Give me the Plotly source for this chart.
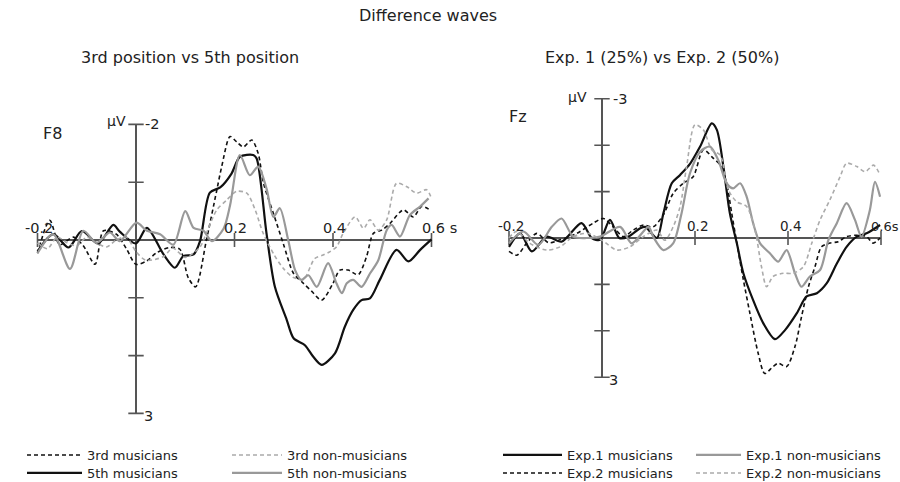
import plotly.graph_objects as go

# ---------------- data ----------------
# Left panel (F8): 3rd position vs 5th position
L3_MUS_T = [-0.2, -0.175, -0.155, -0.127, -0.107, -0.083, -0.066, -0.04, -0.019, 0.0, 0.022, 0.042, 0.069, 0.089,
            0.106, 0.121, 0.143, 0.164, 0.174, 0.191, 0.204, 0.218, 0.235, 0.248, 0.259, 0.279, 0.299, 0.32, 0.34,
            0.357, 0.377, 0.4, 0.414, 0.431, 0.451, 0.468, 0.482, 0.499, 0.516, 0.543, 0.563, 0.58, 0.597]
L3_MUS_V = [0.23, -0.34, 0.08, -0.05, 0.1, 0.42, -0.16, -0.1, 0.16, 0.42, 0.36, 0.22, 0.13, 0.16,
            0.65, 0.81, 0.0, -0.86, -1.27, -1.79, -1.70, -1.61, -1.73, -1.5, -0.98, -0.46, 0.06, 0.58, 0.75,
            0.89, 1.04, 0.75, 0.52, 0.52, 0.6, 0.29, -0.115, -0.17, -0.29, -0.52, -0.4, -0.58, -0.52]

L5_MUS_T = [-0.2, -0.168, -0.137, -0.11, -0.077, -0.046, -0.033, 0.0, 0.022, 0.056, 0.079, 0.096, 0.117, 0.13,
            0.15, 0.171, 0.194, 0.211, 0.238, 0.245, 0.265, 0.282, 0.306, 0.32, 0.343, 0.36, 0.377, 0.404, 0.424,
            0.441, 0.458, 0.475, 0.495, 0.529, 0.553, 0.577, 0.6]
L5_MUS_V = [0.2, -0.1, 0.13, -0.156, 0.06, -0.26, -0.145, 0.06, -0.21, 0.25, 0.48, 0.28, 0.25, 0.02,
            -0.82, -0.91, -1.15, -1.44, -1.47, -1.41, -0.115, 0.81, 1.38, 1.70, 1.82, 2.02, 2.16, 1.96, 1.5,
            1.21, 1.04, 1.01, 0.69, 0.17, 0.37, 0.17, -0.01]

L3_NON_T = [-0.2, -0.18, -0.16, -0.14, -0.12, -0.1, -0.08, -0.06, -0.04, -0.02, 0.0, 0.02, 0.055, 0.075, 0.1,
            0.13, 0.143, 0.164, 0.184, 0.204, 0.225, 0.242, 0.258, 0.28, 0.30, 0.32, 0.34, 0.363, 0.38, 0.394,
            0.407, 0.421, 0.445, 0.462, 0.475, 0.492, 0.509, 0.529, 0.55, 0.57, 0.59, 0.6]
L3_NON_V = [0.05, 0.15, -0.05, 0.05, 0.1, -0.05, 0.05, 0.12, 0.0, -0.05, 0.2, 0.35, 0.29, 0.14, 0.3,
            0.12, -0.12, -0.52, -0.69, -0.84, -0.81, -0.52, -0.12, 0.25, 0.5, 0.65, 0.68, 0.32, 0.26, 0.2,
            0.12, -0.12, -0.40, -0.2, -0.35, -0.17, -0.35, -0.98, -0.92, -0.81, -0.87, -0.72]

L5_NON_T = [-0.2, -0.168, -0.134, -0.107, -0.08, -0.053, -0.033, 0.001, 0.022, 0.049, 0.076, 0.1, 0.117, 0.137,
            0.154, 0.178, 0.191, 0.211, 0.231, 0.248, 0.265, 0.279, 0.292, 0.309, 0.323, 0.336, 0.35, 0.367,
            0.39, 0.407, 0.418, 0.428, 0.441, 0.458, 0.475, 0.492, 0.509, 0.519, 0.536, 0.556, 0.577, 0.594]
L5_NON_V = [0.23, -0.1, 0.5, -0.16, 0.05, -0.13, 0.02, -0.3, -0.16, -0.1, 0.08, -0.5, -0.21, -0.16,
            0.02, -0.2, -0.6, -1.47, -1.12, -1.27, -0.89, -0.4, -0.55, 0.0, 0.52, 0.69, 0.61, 0.81,
            0.40, 0.75, 0.92, 0.75, 0.69, 0.81, 0.58, 0.35, -0.17, -0.26, -0.06, -0.43, -0.58, -0.72]

# Right panel (Fz): Exp. 1 (25%) vs Exp. 2 (50%)
E1_MUS_T = [-0.2, -0.176, -0.151, -0.119, -0.087, -0.044, -0.022, -0.004, 0.017, 0.037, 0.057, 0.082, 0.093,
            0.118, 0.132, 0.15, 0.168, 0.19, 0.211, 0.236, 0.247, 0.261, 0.275, 0.29, 0.304, 0.325, 0.347,
            0.372, 0.394, 0.419, 0.44, 0.462, 0.483, 0.505, 0.526, 0.548, 0.569, 0.598]
E1_MUS_V = [0.19, -0.1, 0.29, -0.03, 0.08, -0.32, 0.0, 0.04, -0.39, 0.0, -0.03, -0.21, -0.24,
            0.0, -0.53, -1.18, -1.36, -1.61, -1.97, -2.47, -2.33, -1.54, -0.53, 0.115, 0.76, 1.34, 1.84,
            2.18, 1.98, 1.62, 1.26, 1.19, 0.98, 0.55, 0.19, -0.03, -0.1, -0.28]

E2_MUS_T = [-0.2, -0.183, -0.162, -0.14, -0.115, -0.09, -0.054, -0.019, 0.003, 0.024, 0.046, 0.067, 0.089,
            0.11, 0.132, 0.153, 0.175, 0.196, 0.218, 0.239, 0.257, 0.268, 0.279, 0.29, 0.304, 0.318, 0.336,
            0.35, 0.368, 0.379, 0.397, 0.415, 0.429, 0.444, 0.458, 0.472, 0.49, 0.508, 0.526, 0.548, 0.569,
            0.583, 0.598]
E2_MUS_V = [0.29, 0.37, 0.11, -0.1, 0.1, 0.04, -0.1, -0.32, -0.42, -0.24, -0.03, -0.17, -0.28,
            -0.24, -0.5, -0.96, -1.18, -1.32, -1.9, -1.72, -1.54, -1.18, -0.53, 0.11, 0.9, 1.62, 2.49,
            2.92, 2.77, 2.7, 2.77, 2.34, 1.7, 1.05, 0.62, 0.19, 0.11, 0.08, -0.03, -0.06, -0.03,
            0.11, 0.0]

E1_NON_T = [-0.2, -0.169, -0.137, -0.108, -0.087, -0.062, -0.033, -0.004, 0.039, 0.064, 0.1, 0.11, 0.132,
            0.153, 0.171, 0.189, 0.211, 0.232, 0.25, 0.268, 0.282, 0.297, 0.311, 0.325, 0.34, 0.361, 0.379,
            0.397, 0.415, 0.429, 0.447, 0.469, 0.487, 0.505, 0.526, 0.544, 0.558, 0.576, 0.587, 0.598]
E1_NON_V = [0.115, -0.14, 0.15, -0.24, -0.42, -0.03, 0.0, -0.03, -0.24, 0.115, -0.24, -0.03, 0.26,
            0.115, -0.53, -1.39, -1.86, -1.97, -1.68, -1.18, -1.07, -1.18, -0.89, -0.32, 0.115, 0.33, 0.51,
            0.26, 0.76, 1.05, 0.83, 0.69, 0.04, -0.32, -0.75, -0.39, -0.03, -0.6, -1.21, -0.89]

E2_NON_T = [-0.2, -0.184, -0.155, -0.119, -0.09, -0.062, -0.03, 0.0, 0.032, 0.06, 0.089, 0.118, 0.135,
            0.153, 0.168, 0.182, 0.2, 0.218, 0.236, 0.254, 0.272, 0.29, 0.311, 0.329, 0.343, 0.354, 0.368,
            0.39, 0.411, 0.433, 0.451, 0.469, 0.49, 0.512, 0.526, 0.548, 0.566, 0.584, 0.598]
E2_NON_V = [0.0, -0.14, 0.115, 0.26, 0.19, -0.03, -0.1, 0.05, 0.26, 0.19, -0.03, -0.17, 0.05,
            -0.24, -0.68, -1.54, -2.44, -2.33, -1.9, -1.79, -1.03, -0.78, -0.68, -0.17, 0.62, 1.05, 0.83,
            0.76, 0.76, 0.62, 0.115, -0.39, -0.82, -1.32, -1.61, -1.54, -1.43, -1.57, -1.36]

# Axis ticks
X_TICKS = [-0.2, 0.0, 0.2, 0.4, 0.6]
X_TICK_LABELS = ["-0.2", "", "0.2", "0.4", "0.6"]
L_Y_TICKS = [-2, -1, 0, 1, 2, 3]
R_Y_TICKS = [-3, -2, -1, 0, 1, 2, 3]

# ---------------- styling ----------------
W, H = 900, 482
FONT = "DejaVu Sans"
TXT = "#222222"
AX = "#555555"
BLACK = "#111111"
GRAY = "#999999"
LGRAY = "#ababab"
DASH = "4px,3px"

fig = go.Figure()


def line(x, y, name, color, dash, width, xa, ya, legend):
    fig.add_trace(go.Scatter(
        x=x, y=y, mode="lines", name=name,
        line=dict(color=color, width=width, dash=dash, shape="spline", smoothing=0.8),
        xaxis=xa, yaxis=ya, legend=legend, hoverinfo="skip"))


def axes(xa, ya, yticks):
    fig.add_trace(go.Scatter(x=[X_TICKS[0], X_TICKS[-1]], y=[0, 0], mode="lines",
                             line=dict(color=AX, width=2), xaxis=xa, yaxis=ya,
                             showlegend=False, hoverinfo="skip"))
    fig.add_trace(go.Scatter(x=[0, 0], y=[yticks[0], yticks[-1]], mode="lines",
                             line=dict(color=AX, width=2), xaxis=xa, yaxis=ya,
                             showlegend=False, hoverinfo="skip"))
    fig.add_trace(go.Scatter(x=X_TICKS, y=[0] * len(X_TICKS), mode="markers",
                             marker=dict(symbol="line-ns", size=10, line=dict(color=AX, width=1.6)),
                             xaxis=xa, yaxis=ya, showlegend=False, hoverinfo="skip"))
    fig.add_trace(go.Scatter(x=[0] * len(yticks), y=yticks, mode="markers",
                             marker=dict(symbol="line-ew", size=11, line=dict(color=AX, width=1.6)),
                             xaxis=xa, yaxis=ya, showlegend=False, hoverinfo="skip"))


# left panel
axes("x", "y", L_Y_TICKS)
line(L3_MUS_T, L3_MUS_V, "3rd musicians", BLACK, DASH, 1.6, "x", "y", "legend")
line(L5_MUS_T, L5_MUS_V, "5th musicians", BLACK, "solid", 2.2, "x", "y", "legend2")
line(L3_NON_T, L3_NON_V, "3rd non-musicians", LGRAY, DASH, 1.6, "x", "y", "legend3")
line(L5_NON_T, L5_NON_V, "5th non-musicians", GRAY, "solid", 2.2, "x", "y", "legend4")

# right panel
axes("x2", "y2", R_Y_TICKS)
line(E1_MUS_T, E1_MUS_V, "Exp.1 musicians", BLACK, "solid", 2.2, "x2", "y2", "legend5")
line(E2_MUS_T, E2_MUS_V, "Exp.2 musicians", BLACK, DASH, 1.6, "x2", "y2", "legend6")
line(E1_NON_T, E1_NON_V, "Exp.1 non-musicians", GRAY, "solid", 2.2, "x2", "y2", "legend7")
line(E2_NON_T, E2_NON_V, "Exp.2 non-musicians", LGRAY, DASH, 1.6, "x2", "y2", "legend8")


# ---------------- layout (pixel geometry) ----------------
def xdom(a, b):
    return [a / W, b / W]


def ydom(top, bot):
    return [1 - bot / H, 1 - top / H]


# left: t=0 at px 136, 492.5 px/s ; v=0 at py 240, 57.8 px/uV
LXR = [-0.22, 0.62]
LYR = [3.1, -2.1]
# right: t=0 at px 602, 465 px/s ; v=0 at py 238, 46.4 px/uV
RXR = [-0.22, 0.62]
RYR = [3.1, -3.1]

hidden = dict(visible=False, showgrid=False, zeroline=False, fixedrange=True)
fig.update_layout(
    width=W, height=H, margin=dict(l=0, r=0, t=0, b=0, autoexpand=False),
    paper_bgcolor="white", plot_bgcolor="rgba(0,0,0,0)",
    font=dict(family=FONT, color=TXT, size=13),
    xaxis=dict(domain=xdom(136 + LXR[0] * 492.5, 136 + LXR[1] * 492.5), range=LXR, **hidden),
    yaxis=dict(domain=ydom(240 - 2.1 * 57.8, 240 + 3.1 * 57.8), range=LYR, **hidden),
    xaxis2=dict(domain=xdom(602 + RXR[0] * 465, 602 + RXR[1] * 465), range=RXR, **hidden),
    yaxis2=dict(domain=ydom(238 - 3.1 * 46.4, 238 + 3.1 * 46.4), range=RYR, **hidden),
    showlegend=True,
)


def leg(xpx, ypx, itemwidth):
    return dict(orientation="v", bgcolor="rgba(0,0,0,0)", font=dict(size=13, color=TXT),
                itemwidth=itemwidth, tracegroupgap=0, xanchor="left", yanchor="middle",
                x=xpx / W, y=1 - ypx / H, itemclick=False, itemdoubleclick=False)


ROW1, ROW2 = 455, 473
fig.update_layout(
    legend=leg(22, ROW1, 55), legend2=leg(22, ROW2, 55),
    legend3=leg(227, ROW1, 50), legend4=leg(227, ROW2, 50),
    legend5=leg(498, ROW1, 59), legend6=leg(498, ROW2, 59),
    legend7=leg(691, ROW1, 45), legend8=leg(691, ROW2, 45),
)

ann = []


def text(t, x, y, size, xref="paper", yref="paper", **kw):
    ann.append(dict(text=t, x=x, y=y, xref=xref, yref=yref, showarrow=False,
                    font=dict(family=FONT, size=size, color=TXT), **kw))


# titles
text("Difference waves", 428 / W, 1 - 16 / H, 16, xanchor="center", yanchor="middle")
text("3rd position vs 5th position", 190 / W, 1 - 57 / H, 16, xanchor="center", yanchor="middle")
text("Exp. 1 (25%) vs Exp. 2 (50%)", 662 / W, 1 - 57 / H, 16, xanchor="center", yanchor="middle")
text("F8", 41 / W, 1 - 133 / H, 16, xanchor="left", yanchor="middle")
text("Fz", 507 / W, 1 - 116 / H, 16, xanchor="left", yanchor="middle")

TSL = 14.5
# tick labels, left
for v, lab in zip(X_TICKS, X_TICK_LABELS):
    if not lab:
        continue
    if v == X_TICKS[-1]:
        text(lab + " s", v, 0, TSL, "x", "y", xanchor="left", yanchor="bottom", xshift=-12, yshift=2)
    else:
        text(lab, v, 0, TSL, "x", "y", xanchor="center", yanchor="bottom", xshift=1, yshift=2)
text(str(L_Y_TICKS[0]), 0, L_Y_TICKS[0], TSL, "x", "y", xanchor="left", yanchor="middle", xshift=7)
text(str(L_Y_TICKS[-1]), 0, L_Y_TICKS[-1], TSL, "x", "y", xanchor="left", yanchor="middle", xshift=6, yshift=-3)
text("µV", 0, L_Y_TICKS[0], 14, "x", "y", xanchor="right", yanchor="middle", xshift=-8, yshift=3)

TSR = 13.5
# tick labels, right
for v, lab in zip(X_TICKS, X_TICK_LABELS):
    if not lab:
        continue
    if v == X_TICKS[-1]:
        text(lab + "s", v, 0, 13, "x2", "y2", xanchor="left", yanchor="bottom", xshift=-12, yshift=2)
    else:
        text(lab, v, 0, TSR, "x2", "y2", xanchor="center", yanchor="bottom", xshift=2, yshift=2)
text(str(R_Y_TICKS[0]), 0, R_Y_TICKS[0], 14.5, "x2", "y2", xanchor="left", yanchor="middle", xshift=9)
text(str(R_Y_TICKS[-1]), 0, R_Y_TICKS[-1], 14.5, "x2", "y2", xanchor="left", yanchor="middle", xshift=5, yshift=-3)
text("µV", 0, R_Y_TICKS[0], 14, "x2", "y2", xanchor="right", yanchor="middle", xshift=-13, yshift=2)

fig.update_layout(annotations=ann)
fig.write_html("out.html", config={"displayModeBar": False},
               post_script="document.body.style.margin='0px';document.body.style.overflow='hidden';")
